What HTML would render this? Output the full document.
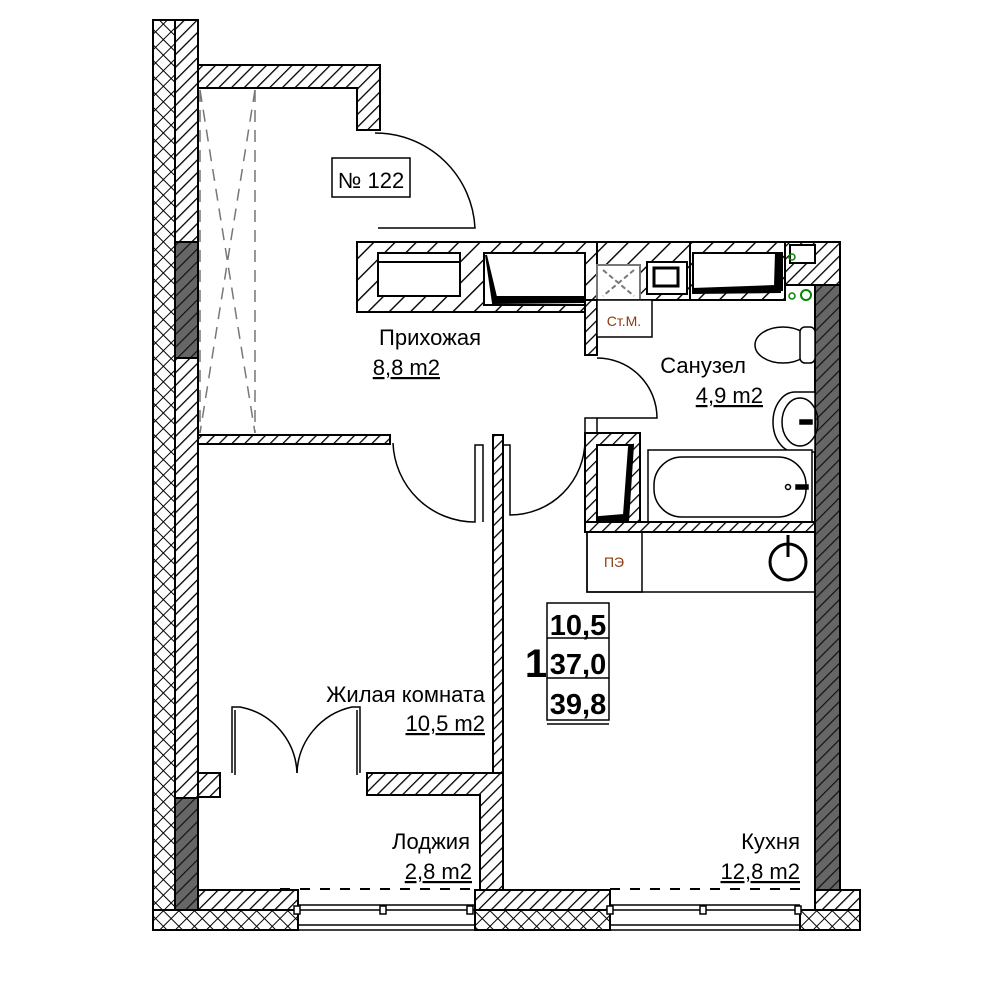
<!DOCTYPE html>
<html><head><meta charset="utf-8"><style>
html,body{margin:0;padding:0;background:#fff}
svg{display:block}
text{font-family:"Liberation Sans",sans-serif}
</style></head><body>
<svg width="1000" height="1000" viewBox="0 0 1000 1000" xmlns="http://www.w3.org/2000/svg">
<defs>
<pattern id="h" width="9" height="9" patternUnits="userSpaceOnUse" patternTransform="rotate(45)">
<rect width="9" height="9" fill="#fff"/><line x1="0" y1="0" x2="0" y2="9" stroke="#000" stroke-width="2.6"/></pattern>
<pattern id="hw" width="15" height="15" patternUnits="userSpaceOnUse" patternTransform="rotate(45)">
<rect width="15" height="15" fill="#fff"/><line x1="0" y1="0" x2="0" y2="15" stroke="#000" stroke-width="2.8"/></pattern>
<pattern id="hg" width="9" height="9" patternUnits="userSpaceOnUse" patternTransform="rotate(45)">
<rect width="9" height="9" fill="#666"/><line x1="0" y1="0" x2="0" y2="9" stroke="#111" stroke-width="2.4"/></pattern>
<pattern id="x" width="11" height="11" patternUnits="userSpaceOnUse" patternTransform="rotate(45)">
<rect width="11" height="11" fill="#fff"/><line x1="0" y1="0" x2="0" y2="11" stroke="#000" stroke-width="2"/><line x1="0" y1="0" x2="11" y2="0" stroke="#000" stroke-width="2"/></pattern>
</defs>
<g stroke="#000" stroke-width="2">
<rect x="153" y="20" width="22" height="910" fill="url(#x)"/>
<rect x="175" y="20" width="23" height="870" fill="url(#h)"/>
<rect x="175" y="242" width="23" height="116" fill="url(#hg)"/>
<rect x="175" y="798" width="23" height="112" fill="url(#hg)"/>
<path d="M198 65 H380 V130 H357 V88 H198 Z" fill="url(#h)"/>
</g>
<g stroke="#777" stroke-width="1.5" stroke-dasharray="12 8" fill="none">
<line x1="200" y1="90" x2="255" y2="433"/><line x1="255" y1="90" x2="200" y2="433"/>
<line x1="255" y1="90" x2="255" y2="433"/><line x1="200" y1="90" x2="200" y2="433"/>
</g>
<g stroke="#000" stroke-width="1.5" fill="none">
<path d="M375 133 A100 100 0 0 1 475 228 H378"/>
<rect x="332" y="158" width="78" height="39" fill="#fff"/>
</g>
<text x="371" y="188" font-size="22" text-anchor="middle">№ 122</text>
<g stroke="#000" stroke-width="2">
<rect x="357" y="242" width="240" height="70" fill="url(#hw)"/>
<rect x="378" y="253" width="82" height="43" fill="#fff"/>
<line x1="378" y1="262" x2="460" y2="262"/>
<rect x="484" y="253" width="101" height="52" fill="#fff"/>
<path d="M486 255 L493 303 L585 302 L585 297 L496 297 Z" fill="#000"/>
<rect x="597" y="242" width="93" height="58" fill="url(#hw)"/>
<rect x="597" y="265" width="43" height="35" fill="#fff" stroke="#777"/>
<path d="M603 270 L634 296 M634 270 L603 296" stroke="#777" stroke-dasharray="5 3"/>
<rect x="647" y="262" width="40" height="32" fill="#fff"/>
<rect x="654" y="268" width="24" height="18" fill="#fff" stroke-width="3"/>
<rect x="690" y="242" width="95" height="58" fill="url(#hw)"/>
<rect x="693" y="253" width="89" height="37" fill="#fff"/>
<path d="M776 253 L782 253 L780 292 L693 293 L693 289 L775 286 Z" fill="#000"/>
<rect x="785" y="242" width="55" height="43" fill="url(#h)"/>
<rect x="790" y="245" width="25" height="18" fill="#fff"/>
<rect x="815" y="285" width="25" height="625" fill="url(#hg)"/>
<rect x="585" y="300" width="12" height="55" fill="url(#h)"/>
<rect x="597" y="300" width="55" height="37" fill="#fff" stroke-width="1.5"/>
<rect x="585" y="418" width="12" height="15" fill="#fff" stroke-width="1.5"/>
</g>
<circle cx="792" cy="257" r="3" fill="none" stroke="#080" stroke-width="1.5"/>
<circle cx="792" cy="296" r="3" fill="none" stroke="#080" stroke-width="1.5"/>
<circle cx="806" cy="295" r="5" fill="none" stroke="#080" stroke-width="2"/>
<text x="624" y="326" font-size="14" fill="#8b3a0f" text-anchor="middle">Ст.М.</text>
<g stroke="#000" stroke-width="1.5" fill="none">
<path d="M597 358 A60 60 0 0 1 657 418 H597"/>
<ellipse cx="783" cy="345" rx="28" ry="18" fill="#fff"/>
<rect x="800" y="327" width="15" height="36" rx="5" fill="#fff"/>
<path d="M815 392 H795 A22 30 0 0 0 795 452 H815 Z" fill="#fff"/>
<ellipse cx="800" cy="422" rx="18" ry="24"/>
<rect x="800" y="420" width="12" height="4" fill="#000"/>
<rect x="648" y="450" width="164" height="73" fill="#fff"/>
<rect x="654" y="457" width="152" height="60" rx="28"/>
<circle cx="788" cy="487" r="2.5"/><rect x="796" y="485" width="12" height="4" fill="#000"/>
</g>
<g stroke="#000" stroke-width="2">
<rect x="585" y="433" width="55" height="95" fill="url(#h)"/>
<path d="M597 445 H632 L628 520 H597 Z" fill="#fff"/>
<path d="M629 447 L633 445 L628 521 L599 521 L599 517 L624 515 Z" fill="#000"/>
<rect x="585" y="522" width="230" height="10" fill="url(#h)"/>
</g>
<g stroke="#000" stroke-width="1.5" fill="none">
<rect x="587" y="532" width="228" height="60"/>
<rect x="587" y="532" width="55" height="60"/>
<circle cx="788" cy="562" r="18" stroke-width="3"/>
<line x1="788" y1="535" x2="788" y2="557" stroke-width="3"/>
</g>
<text x="614" y="567" font-size="14" fill="#8b3a0f" text-anchor="middle">ПЭ</text>
<g stroke="#000" stroke-width="2">
<rect x="198" y="435" width="192" height="9" fill="url(#h)"/>
<rect x="493" y="435" width="10" height="340" fill="url(#h)"/>
</g>
<g stroke="#000" stroke-width="1.5" fill="none">
<path d="M393 443 A82 82 0 0 0 475 522 V445 H483 V522"/>
<path d="M585 440 A75 75 0 0 1 510 515 V445 H503"/>
<path d="M232 773 V707 H240 A70 70 0 0 1 297 773"/>
<path d="M360 773 V707 H352 A70 70 0 0 0 297 773"/>
<line x1="235" y1="710" x2="235" y2="775"/><line x1="357" y1="710" x2="357" y2="775"/>
</g>
<g stroke="#000" stroke-width="2">
<rect x="198" y="773" width="22" height="24" fill="url(#h)"/>
<path d="M367 773 H503 V890 H480 V795 H367 Z" fill="url(#h)"/>
<rect x="198" y="890" width="100" height="20" fill="url(#h)"/>
<rect x="153" y="910" width="145" height="20" fill="url(#x)"/>
<rect x="475" y="890" width="135" height="20" fill="url(#h)"/>
<rect x="475" y="910" width="135" height="20" fill="url(#x)"/>
<rect x="815" y="890" width="45" height="20" fill="url(#h)"/>
<rect x="800" y="910" width="60" height="20" fill="url(#x)"/>
</g>
<g stroke="#000" stroke-width="1.5" fill="none">
<line x1="298" y1="905" x2="475" y2="905"/><line x1="298" y1="910" x2="475" y2="910"/>
<line x1="298" y1="930" x2="475" y2="930"/><line x1="298" y1="925" x2="475" y2="925"/>
<line x1="610" y1="905" x2="800" y2="905"/><line x1="610" y1="910" x2="800" y2="910"/>
<line x1="610" y1="930" x2="800" y2="930"/><line x1="610" y1="925" x2="800" y2="925"/>
<rect x="294" y="906" width="6" height="8" fill="#fff"/><rect x="380" y="906" width="6" height="8" fill="#fff"/><rect x="467" y="906" width="6" height="8" fill="#fff"/>
<rect x="607" y="906" width="6" height="8" fill="#fff"/><rect x="700" y="906" width="6" height="8" fill="#fff"/><rect x="795" y="906" width="6" height="8" fill="#fff"/>
</g>
<g stroke="#000" stroke-width="2" stroke-dasharray="10 10">
<line x1="280" y1="889" x2="475" y2="889"/><line x1="610" y1="889" x2="800" y2="889"/>
</g>
<g font-size="22" fill="#000">
<text x="481" y="345" text-anchor="end">Прихожая</text>
<text x="440" y="375" text-anchor="end" text-decoration="underline">8,8 m2</text>
<text x="746" y="373" text-anchor="end">Санузел</text>
<text x="763" y="403" text-anchor="end" text-decoration="underline">4,9 m2</text>
<text x="485" y="702" text-anchor="end">Жилая комната</text>
<text x="485" y="731" text-anchor="end" text-decoration="underline">10,5 m2</text>
<text x="470" y="849" text-anchor="end">Лоджия</text>
<text x="472" y="879" text-anchor="end" text-decoration="underline">2,8 m2</text>
<text x="800" y="849" text-anchor="end">Кухня</text>
<text x="800" y="879" text-anchor="end" text-decoration="underline">12,8 m2</text>
</g>
<text x="536" y="677" font-size="40" font-weight="bold" text-anchor="middle">1</text>
<g stroke="#000" stroke-width="1.5" fill="none">
<rect x="547" y="603" width="62" height="117"/>
<line x1="547" y1="638" x2="609" y2="638"/><line x1="547" y1="678" x2="609" y2="678"/>
<line x1="547" y1="724" x2="609" y2="724"/>
</g>
<g font-size="29" font-weight="bold" text-anchor="middle">
<text x="578" y="635">10,5</text><text x="578" y="674">37,0</text><text x="578" y="714">39,8</text>
</g>
</svg>
</body></html>
